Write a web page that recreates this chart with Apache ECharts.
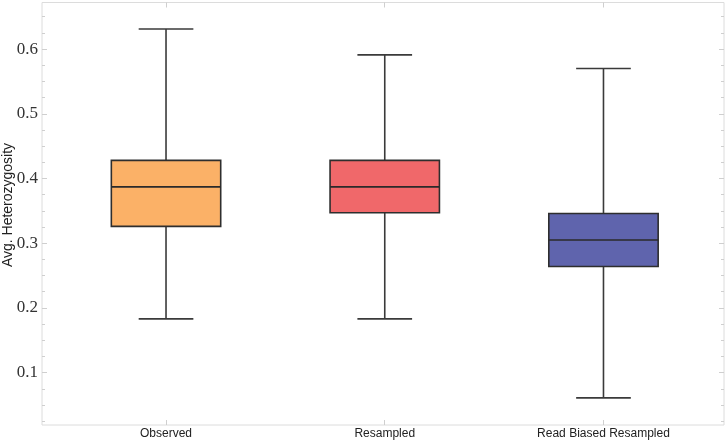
<!DOCTYPE html>
<html>
<head>
<meta charset="utf-8">
<script src="https://cdn.jsdelivr.net/npm/echarts@6/dist/echarts.min.js"></script>
<style>html,body{margin:0;padding:0;background:#fff}#c{width:727px;height:442px}</style>
</head>
<body>
<div id="c"></div>
<script>
const categories = ['Observed', 'Resampled', 'Read Biased Resampled'];
// [lower whisker, Q1, median, Q3, upper whisker]
const observedStats = [0.183, 0.326, 0.387, 0.428, 0.631];
const resampledStats = [0.183, 0.347, 0.387, 0.428, 0.591];
const readBiasedStats = [0.061, 0.264, 0.305, 0.346, 0.570];
const boxColors = ['#fbb167', '#f0686a', '#5f64ad'];
const yTicks = [0.1, 0.2, 0.3, 0.4, 0.5, 0.6];
const yMinorTicks = [0.025, 0.05, 0.075, 0.125, 0.15, 0.175, 0.225, 0.25, 0.275, 0.325, 0.35, 0.375,
  0.425, 0.45, 0.475, 0.525, 0.55, 0.575, 0.625, 0.65];
const xTicks = [0, 1, 2];
const yAxisTitle = 'Avg. Heterozygosity';

const allStats = [observedStats, resampledStats, readBiasedStats];
const data = allStats.map((s, i) => [i, s[0], s[1], s[2], s[3], s[4]]);

const chart = echarts.init(document.getElementById('c'), null, {renderer: 'canvas'});
const tickColor = '#cfcfcf';
const labelFont = {fontFamily: 'Liberation Serif', fontSize: 17, color: '#333'};

function yAx(pos, custom, len, showLabel) {
  return {
    type: 'value', position: pos, offset: 0, min: 0.019, max: 0.672,
    axisLine: {show: false, onZero: false}, splitLine: {show: false},
    axisTick: {show: true, inside: true, length: len, customValues: custom, lineStyle: {color: tickColor}},
    axisLabel: showLabel ? Object.assign({show: true, customValues: custom, margin: 4, formatter: v => v.toFixed(1)}, labelFont) : {show: false}
  };
}
function xAx(pos, showLabel) {
  return {
    type: 'value', position: pos, offset: 0, min: -0.567, max: 2.551,
    axisLine: {show: false, onZero: false}, splitLine: {show: false},
    axisTick: {show: true, inside: true, length: 5, customValues: xTicks, lineStyle: {color: tickColor}},
    axisLabel: showLabel ? {show: true, customValues: xTicks, margin: 3, fontFamily: 'Liberation Sans', fontSize: 12, color: '#222',
      formatter: v => categories[Math.round(v)] || ''} : {show: false}
  };
}

const option = {
  animation: false,
  backgroundColor: '#fff',
  grid: {left: 42, right: 3, top: 2.5, bottom: 17, show: true, borderColor: '#dcdcdc', borderWidth: 1,
    backgroundColor: 'transparent', containLabel: false, outerBoundsMode: 'none'},
  graphic: [{
    type: 'text', x: 8, y: 205, rotation: Math.PI / 2,
    style: {text: yAxisTitle, fontFamily: 'Liberation Sans', fontSize: 14, fill: '#222', align: 'center', verticalAlign: 'middle'}
  }],
  xAxis: [xAx('bottom', true), xAx('top', false)],
  yAxis: [
    yAx('left', yTicks, 5, true),
    yAx('left', yMinorTicks, 3, false),
    yAx('right', yTicks, 5, false),
    yAx('right', yMinorTicks, 3, false)
  ],
  series: [{
    type: 'custom',
    xAxisIndex: 0, yAxisIndex: 0,
    data: data,
    encode: {x: 0, y: [1, 2, 3, 4, 5]},
    renderItem: function (params, api) {
      const x = api.value(0);
      const half = api.size([0.25, 0])[0];
      const cap = api.size([0.125, 0])[0];
      const pMin = api.coord([x, api.value(1)]);
      const pQ1 = api.coord([x, api.value(2)]);
      const pMed = api.coord([x, api.value(3)]);
      const pQ3 = api.coord([x, api.value(4)]);
      const pMax = api.coord([x, api.value(5)]);
      const cx = pMed[0];
      const lineStyle = {stroke: '#3a3a3a', lineWidth: 1.6, fill: null};
      return {
        type: 'group',
        children: [
          {type: 'line', shape: {x1: cx, y1: pMax[1], x2: cx, y2: pQ3[1]}, style: lineStyle},
          {type: 'line', shape: {x1: cx, y1: pQ1[1], x2: cx, y2: pMin[1]}, style: lineStyle},
          {type: 'line', shape: {x1: cx - cap, y1: pMax[1], x2: cx + cap, y2: pMax[1]}, style: lineStyle},
          {type: 'line', shape: {x1: cx - cap, y1: pMin[1], x2: cx + cap, y2: pMin[1]}, style: lineStyle},
          {type: 'rect', shape: {x: cx - half, y: pQ3[1], width: half * 2, height: pQ1[1] - pQ3[1]},
            style: {fill: boxColors[params.dataIndex], stroke: '#2e2e2e', lineWidth: 1.6}},
          {type: 'line', shape: {x1: cx - half, y1: pMed[1], x2: cx + half, y2: pMed[1]}, style: {stroke: '#2a2a2a', lineWidth: 1.6}}
        ]
      };
    }
  }]
};
chart.setOption(option);
</script>
</body>
</html>
